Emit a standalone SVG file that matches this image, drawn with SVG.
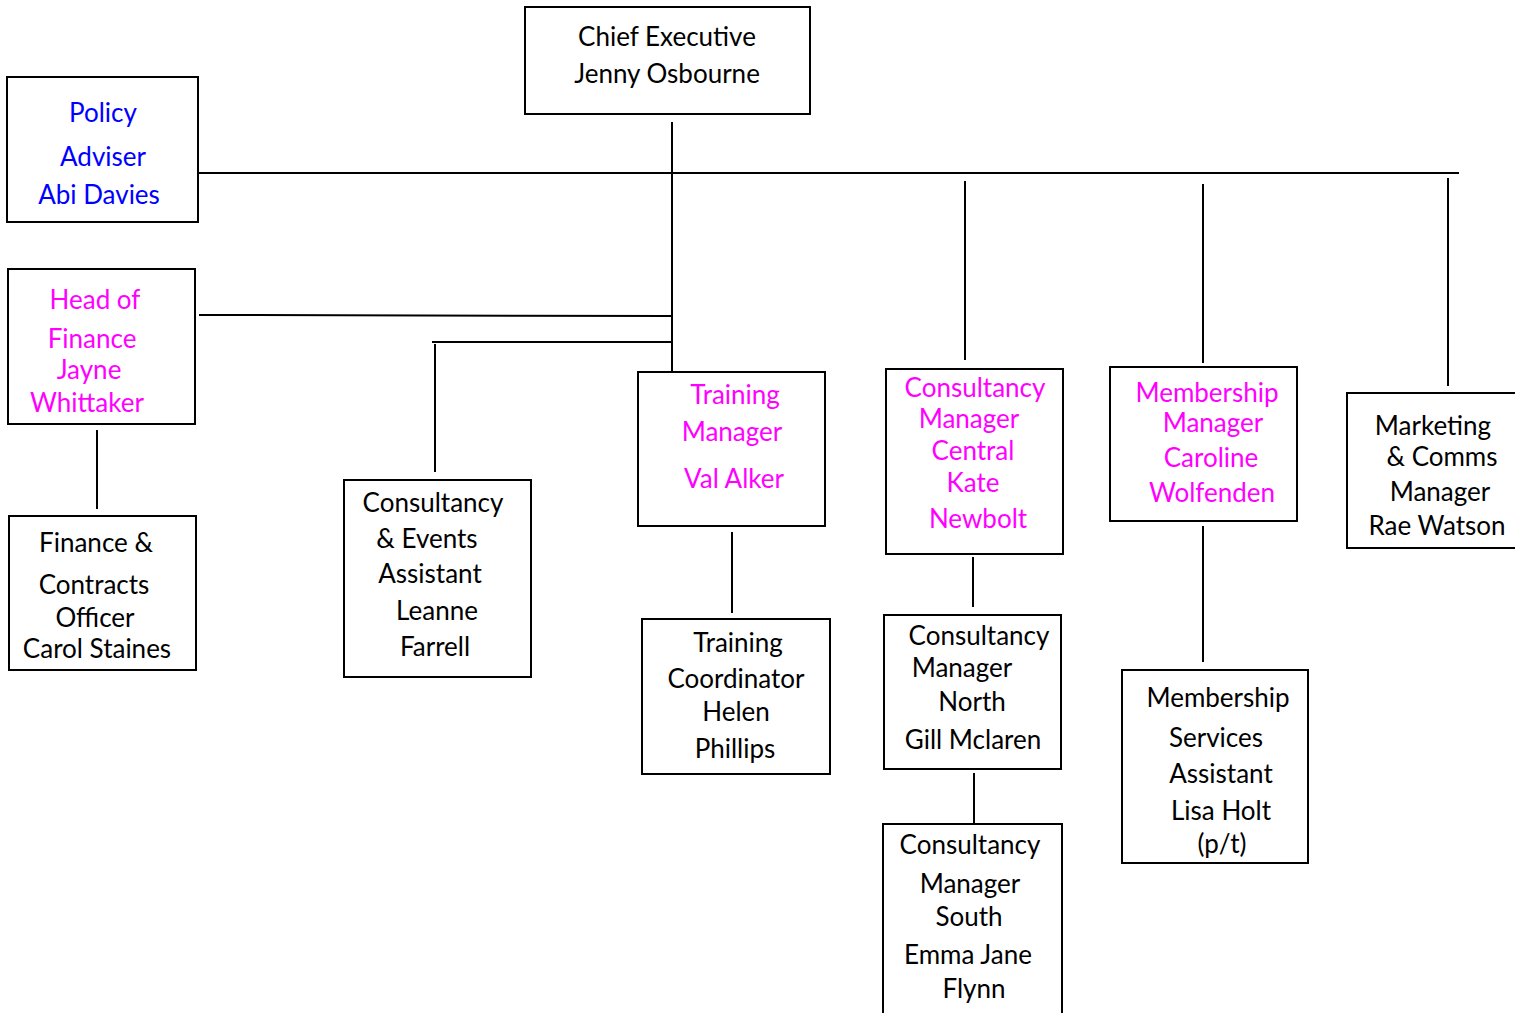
<svg xmlns="http://www.w3.org/2000/svg" width="1515" height="1013" viewBox="0 0 1515 1013">
<style>
rect{fill:#fff;stroke:#000;stroke-width:2}
text{font-family:Lato,"Open Sans","Liberation Sans",sans-serif;font-size:26px;text-anchor:middle;fill:#000}
.b{fill:#0000ff}
.m{fill:#ff00ff}
#connectors line{stroke:#000;stroke-width:2}
</style>
<rect width="1515" height="1013" style="fill:#fff;stroke:none"/>
<g id="connectors">
<line x1="672" y1="122" x2="672" y2="372"/>
<line x1="199" y1="173" x2="1459" y2="173"/>
<line x1="199" y1="315" x2="671" y2="316"/>
<line x1="432" y1="342" x2="671" y2="342"/>
<line x1="435" y1="344" x2="435" y2="472"/>
<line x1="97" y1="430" x2="97" y2="509"/>
<line x1="965" y1="181" x2="965" y2="360"/>
<line x1="1203" y1="184" x2="1203" y2="363"/>
<line x1="1448" y1="178" x2="1448" y2="386"/>
<line x1="732" y1="532" x2="732" y2="613"/>
<line x1="973" y1="557" x2="973" y2="607"/>
<line x1="974" y1="773" x2="974" y2="825"/>
<line x1="1203" y1="526" x2="1203" y2="662"/>
</g>
<g id="chief-executive"><rect x="525" y="7" width="285" height="107"/>
<text x="667" y="46">Chief Executive</text><text x="667" y="83">Jenny Osbourne</text></g>
<g id="policy-adviser"><rect x="7" y="77" width="191" height="145"/>
<text class="b" x="103" y="122">Policy</text><text class="b" x="103" y="166">Adviser</text><text class="b" x="99" y="204">Abi Davies</text></g>
<g id="head-of-finance"><rect x="8" y="269" width="187" height="155"/>
<text class="m" x="95" y="309">Head of</text><text class="m" x="92" y="348">Finance</text><text class="m" x="89" y="379">Jayne</text><text class="m" x="87" y="412">Whittaker</text></g>
<g id="finance-contracts"><rect x="9" y="516" width="187" height="154"/>
<text x="96" y="552">Finance &amp;</text><text x="94" y="594">Contracts</text><text x="95" y="627">Officer</text><text x="97" y="658">Carol Staines</text></g>
<g id="consultancy-events"><rect x="344" y="480" width="187" height="197"/>
<text x="433" y="512">Consultancy</text><text x="427" y="548">&amp; Events</text><text x="430" y="583">Assistant</text><text x="437" y="620">Leanne</text><text x="435" y="656">Farrell</text></g>
<g id="training-manager"><rect x="638" y="372" width="187" height="154"/>
<text class="m" x="735" y="404">Training</text><text class="m" x="732" y="441">Manager</text><text class="m" x="734" y="488">Val Alker</text></g>
<g id="consultancy-central"><rect x="886" y="369" width="177" height="185"/>
<text class="m" x="975" y="397">Consultancy</text><text class="m" x="969" y="428">Manager</text><text class="m" x="973" y="460">Central</text><text class="m" x="973" y="492">Kate</text><text class="m" x="978" y="528">Newbolt</text></g>
<g id="membership-manager"><rect x="1110" y="367" width="187" height="154"/>
<text class="m" x="1207" y="402">Membership</text><text class="m" x="1213" y="432">Manager</text><text class="m" x="1211" y="467">Caroline</text><text class="m" x="1212" y="502">Wolfenden</text></g>
<g id="marketing"><rect x="1347" y="393" width="180" height="155"/>
<text x="1433" y="435">Marketing</text><text x="1442" y="466">&amp; Comms</text><text x="1440" y="501">Manager</text><text x="1437" y="535">Rae Watson</text></g>
<g id="training-coordinator"><rect x="642" y="619" width="188" height="155"/>
<text x="738" y="652">Training</text><text x="736" y="688">Coordinator</text><text x="736" y="721">Helen</text><text x="735" y="758">Phillips</text></g>
<g id="consultancy-north"><rect x="884" y="615" width="177" height="154"/>
<text x="979" y="645">Consultancy</text><text x="962" y="677">Manager</text><text x="972" y="711">North</text><text x="973" y="749">Gill Mclaren</text></g>
<g id="consultancy-south"><rect x="883" y="824" width="179" height="200"/>
<text x="970" y="854">Consultancy</text><text x="970" y="893">Manager</text><text x="969" y="926">South</text><text x="968" y="964">Emma Jane</text><text x="974" y="998">Flynn</text></g>
<g id="membership-services"><rect x="1122" y="670" width="186" height="193"/>
<text x="1218" y="707">Membership</text><text x="1216" y="747">Services</text><text x="1221" y="783">Assistant</text><text x="1221" y="820">Lisa Holt</text><text x="1222" y="853">(p/t)</text></g>
</svg>
